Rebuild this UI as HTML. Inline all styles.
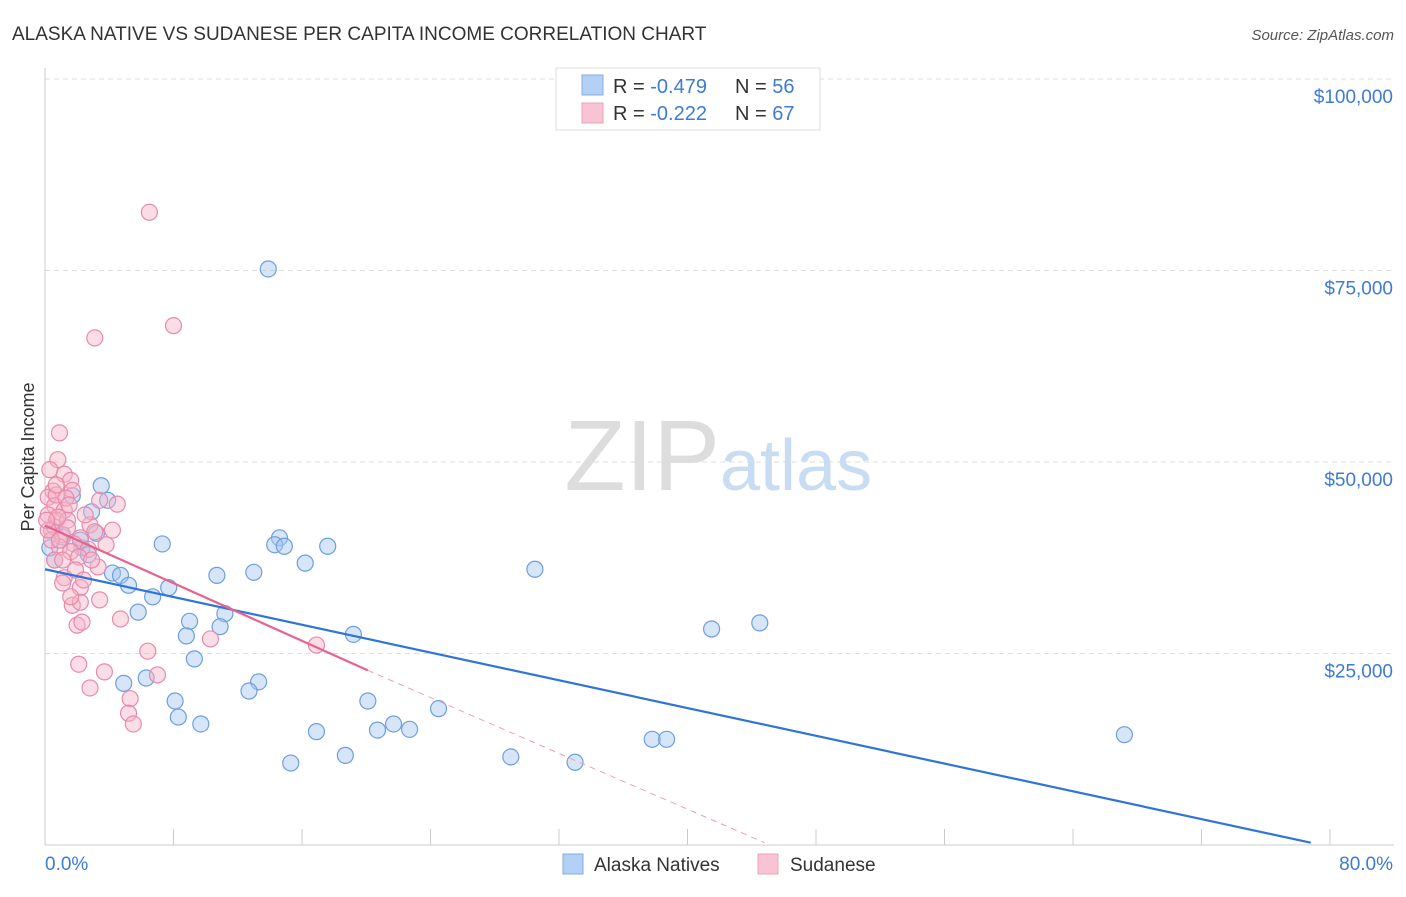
<!DOCTYPE html>
<html><head><meta charset="utf-8"><style>
body{margin:0;background:#fff;font-family:"Liberation Sans",sans-serif;}
svg text{font-family:"Liberation Sans",sans-serif;}
</style></head><body>
<svg id="chart" width="1406" height="892" viewBox="0 0 1406 892">
<text x="12" y="40" font-size="19" fill="#333">ALASKA NATIVE VS SUDANESE PER CAPITA INCOME CORRELATION CHART</text>
<text x="1394" y="40" font-size="15" fill="#555" font-style="italic" text-anchor="end">Source: ZipAtlas.com</text>
<text transform="translate(34,457) rotate(-90)" font-size="18" fill="#333" text-anchor="middle">Per Capita Income</text>
<g id="grid"></g>
<text x="720" y="490" font-size="100" fill="#ddd" text-anchor="end" font-family="Liberation Serif">ZIP</text>
<text x="720" y="490" font-size="72" fill="#c8dcf2">atlas</text>
<g id="marks"></g>
<g>
<rect x="556" y="68" width="264" height="62" fill="#fff" stroke="#ddd"/>
<rect x="582" y="75" width="21" height="20" fill="#b4d0f4" stroke="#80aee6"/>
<rect x="582" y="103" width="21" height="20" fill="#f8c4d4" stroke="#eca0ba"/>
<text x="613" y="93" font-size="20" fill="#333">R = <tspan fill="#3d7bd4">-0.479</tspan><tspan x="735">N = </tspan><tspan fill="#3d7bd4">56</tspan></text>
<text x="613" y="120" font-size="20" fill="#333">R = <tspan fill="#3d7bd4"> -0.222</tspan><tspan x="735">N = </tspan><tspan fill="#3d7bd4">67</tspan></text>
</g>
<g>
<rect x="563" y="854" width="20" height="20" fill="#b4d0f4" stroke="#80aee6"/>
<text x="594" y="871" font-size="19" fill="#333">Alaska Natives</text>
<rect x="758" y="854" width="20" height="20" fill="#f8c4d4" stroke="#eca0ba"/>
<text x="790" y="871" font-size="19" fill="#333">Sudanese</text>
</g>
<text x="45" y="870" font-size="19" fill="#3d7bd4">0.0%</text>
<text x="1393" y="870" font-size="19" fill="#3d7bd4" text-anchor="end">80.0%</text>
</svg>
<script>
const yTicks=[25000,50000,75000,100000];
const yTickLabels=["$25,000","$50,000","$75,000","$100,000"];
const xTicks=[0,8,16,24,32,40,48,56,64,72,80];
const blueX=[13.9,3.5,1.7,3.9,2.9,3.2,0.6,2.3,2.7,7.3,14.6,14.3,14.9,17.6,16.2,13.0,10.7,4.2,4.7,5.2,7.7,6.7,5.8,11.2,9.0,10.9,8.8,19.2,30.5,41.5,44.5,9.3,4.9,6.3,13.3,12.7,8.1,8.3,9.7,20.1,24.5,21.7,20.7,22.7,16.9,18.7,15.3,29.0,33.0,37.8,38.7,67.2,0.6,1.1,0.3,2.2];
const blueY=[75.2,46.9,45.6,45.0,43.5,40.7,41.5,38.8,37.9,39.3,40.1,39.2,39.0,39.0,36.8,35.6,35.2,35.5,35.2,33.9,33.6,32.4,30.4,30.2,29.2,28.5,27.3,27.5,36.0,28.2,29.0,24.3,21.1,21.8,21.3,20.1,18.8,16.7,15.8,18.8,17.8,15.8,15.0,15.1,14.8,11.7,10.7,11.5,10.8,13.8,13.8,14.4,37.2,40.2,38.8,39.8];
const pinkX=[6.5,8.0,3.1,0.9,0.8,1.2,1.6,0.5,0.2,3.4,4.5,0.6,1.2,0.2,0.7,1.4,2.8,0.4,1.1,2.2,3.1,1.8,0.9,2.7,1.6,0.6,2.1,3.3,1.2,2.2,1.1,3.4,1.7,2.2,4.7,2.0,2.3,10.3,16.9,6.4,2.1,7.0,3.7,2.8,5.3,5.2,5.5,0.3,0.4,1.7,2.5,0.7,1.4,1.1,1.9,0.2,3.8,4.2,1.3,0.8,2.4,2.9,1.5,0.7,0.1,0.9,1.6];
const pinkY=[82.6,67.8,66.2,53.8,50.3,48.4,47.6,46.2,45.4,45.0,44.5,44.3,43.7,43.1,42.4,42.4,41.8,41.1,40.5,40.1,40.9,39.3,38.9,38.6,38.3,37.2,37.6,36.3,34.9,33.6,34.2,32.0,31.3,31.7,29.5,28.7,29.1,26.9,26.1,25.3,23.6,22.2,22.6,20.5,19.1,17.2,15.8,49.0,39.8,46.3,43.1,45.7,41.4,37.2,35.9,41.1,39.2,41.1,45.3,42.8,34.6,37.2,44.4,47.0,42.4,39.8,32.4];
const blueTrend=[0,36.0,78.8,0.3];
const pinkTrend=[0,41.7,20.1,22.8,44.8,0.3];
const X=v=>45+v/80*1285, Y=v=>845-v/25*191.5;
const NS="http://www.w3.org/2000/svg";
const grid=document.getElementById('grid'), marks=document.getElementById('marks');
function mk(tag,attrs,parent){const e=document.createElementNS(NS,tag);for(const k in attrs)e.setAttribute(k,attrs[k]);parent.appendChild(e);return e;}
yTicks.forEach((t,i)=>{
 const l=mk('line',{x1:45,x2:1394,y1:Y(t/1000),y2:Y(t/1000),stroke:'#ddd','stroke-dasharray':'5,4'},grid);
 
 
 const tx=mk('text',{x:1393,y:Y(t/1000)+24,'font-size':19,fill:'#3d7bd4','text-anchor':'end'},grid);
 tx.textContent=yTickLabels[i];
 
 
});
mk('line',{x1:45,x2:45,y1:68,y2:845,stroke:'#ccc'},grid);
mk('line',{x1:45,x2:1394,y1:845,y2:845,stroke:'#ccc'},grid);
xTicks.forEach(t=>{
 const l=mk('line',{x1:X(t),x2:X(t),y1:829,y2:845,stroke:'#ccc'},grid);
 
 
});
function dots(xs,ys,fill,stroke,name){xs.forEach((x,i)=>{
 const c=mk('circle',{cx:X(x),cy:Y(ys[i]),r:8,fill:fill,'fill-opacity':0.45,stroke:stroke,'stroke-width':1.2},marks);
 
 
});}
dots(blueX,blueY,'#a6c6f0','#6c9fe0','alaska-point');
dots(pinkX,pinkY,'#f6b4c8','#e88aab','sudanese-point');
let l=mk('line',{x1:X(blueTrend[0]),y1:Y(blueTrend[1]),x2:X(blueTrend[2]),y2:Y(blueTrend[3]),stroke:'#2f74d8','stroke-width':2.2},marks);


l=mk('line',{x1:X(pinkTrend[0]),y1:Y(pinkTrend[1]),x2:X(pinkTrend[2]),y2:Y(pinkTrend[3]),stroke:'#e8628e','stroke-width':2.2},marks);


l=mk('line',{x1:X(pinkTrend[2]),y1:Y(pinkTrend[3]),x2:X(pinkTrend[4]),y2:Y(pinkTrend[5]),stroke:'#eea0b8','stroke-width':1,'stroke-dasharray':'6,5'},marks);


</script>
</body></html>
